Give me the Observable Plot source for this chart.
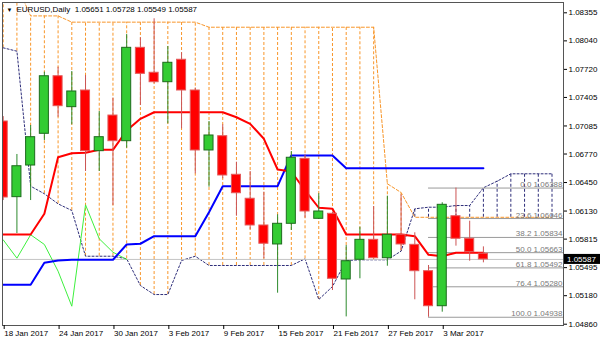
<!DOCTYPE html>
<html><head><meta charset="utf-8">
<script src="https://cdn.jsdelivr.net/npm/d3@7"></script>
<script src="https://cdn.jsdelivr.net/npm/@observablehq/plot@0.6"></script>
<style>
html,body{margin:0;padding:0;background:#fff;}
#chart{width:600px;height:343px;overflow:hidden;}
</style></head><body><div id="chart"></div>
<script>
const symbol = "EURUSD,Daily";
const dates = ["18 Jan 2017","19 Jan 2017","20 Jan 2017","23 Jan 2017","24 Jan 2017","25 Jan 2017","26 Jan 2017","27 Jan 2017","30 Jan 2017","31 Jan 2017","1 Feb 2017","2 Feb 2017","3 Feb 2017","6 Feb 2017","7 Feb 2017","8 Feb 2017","9 Feb 2017","10 Feb 2017","13 Feb 2017","14 Feb 2017","15 Feb 2017","16 Feb 2017","17 Feb 2017","20 Feb 2017","21 Feb 2017","22 Feb 2017","23 Feb 2017","24 Feb 2017","27 Feb 2017","28 Feb 2017","1 Mar 2017","2 Mar 2017","3 Mar 2017","6 Mar 2017","7 Mar 2017","8 Mar 2017"];
const open  = [1.07135,1.06286,1.06641,1.06997,1.07643,1.07296,1.07483,1.06802,1.07202,1.06914,1.07962,1.07682,1.07576,1.07828,1.07483,1.06810,1.06970,1.06537,1.06268,1.05968,1.05755,1.05987,1.06716,1.06043,1.06099,1.05362,1.05583,1.05807,1.05601,1.05864,1.05751,1.05455,1.05062,1.06072,1.05819,1.05651];
const high  = [1.07190,1.06765,1.07090,1.07688,1.07744,1.07696,1.07651,1.07247,1.07397,1.08111,1.08074,1.08288,1.07977,1.07906,1.07509,1.07135,1.07098,1.06678,1.06574,1.06342,1.06088,1.06798,1.06761,1.06324,1.06120,1.05743,1.05949,1.06181,1.06297,1.06312,1.05886,1.05519,1.06223,1.06388,1.06016,1.05728];
const low   = [1.06248,1.05878,1.06248,1.06922,1.07183,1.07098,1.06574,1.06574,1.06192,1.06835,1.07315,1.07558,1.07109,1.07053,1.06548,1.06398,1.06492,1.06072,1.05920,1.05594,1.05208,1.05912,1.06050,1.06035,1.05238,1.04942,1.05370,1.05594,1.05511,1.05687,1.05134,1.04938,1.04995,1.05736,1.05567,1.05549];
const close = [1.06282,1.06633,1.06959,1.07643,1.07307,1.07472,1.06802,1.06959,1.06914,1.07962,1.07670,1.07576,1.07794,1.07483,1.06810,1.06978,1.06529,1.06330,1.05968,1.05763,1.05987,1.06728,1.06125,1.06125,1.05370,1.05567,1.05807,1.05601,1.05864,1.05755,1.05455,1.05062,1.06200,1.05819,1.05668,1.05587];
const tenkan = [1.05867,1.05867,1.05867,1.06099,1.06734,1.06779,1.06784,1.06817,1.06817,1.07034,1.07165,1.07239,1.07239,1.07239,1.07239,1.07239,1.07239,1.07183,1.07109,1.06941,1.06596,1.06574,1.06361,1.06167,1.06155,1.05867,1.05867,1.05867,1.05867,1.05867,1.05848,1.05639,1.05623,1.05663,1.05663,1.05663];
const kijun = [1.05302,1.05302,1.05302,1.05549,1.05575,1.05583,1.05583,1.05583,1.05583,1.05755,1.05763,1.05848,1.05848,1.05848,1.05848,1.06117,1.06409,1.06409,1.06409,1.06409,1.06409,1.06754,1.06754,1.06754,1.06754,1.06611,1.06611,1.06611,1.06611,1.06611,1.06611,1.06611,1.06611,1.06611,1.06611,1.06611];
const chikou = [1.05807,1.05601,1.05864,1.05755,1.05455,1.05062,1.06200,1.05819,1.05668,1.05587];
const spanA = [1.07962,1.07924,1.06409,1.06324,1.06211,1.06136,1.05623,1.05623,1.05623,1.05594,1.05294,1.05193,1.05193,1.05575,1.05623,1.05519,1.05519,1.05519,1.05519,1.05519,1.05519,1.05519,1.05594,1.05137,1.05283,1.05575,1.05583,1.05583,1.05583,1.05680,1.06155,1.06173,1.06173,1.06192,1.06192,1.06391,1.06465,1.06548,1.06548,1.06548,1.06548];
const spanB = [1.08660,1.08660,1.08320,1.08320,1.08320,1.08250,1.08250,1.08250,1.08250,1.08250,1.08250,1.08250,1.08250,1.08250,1.08250,1.08193,1.08193,1.08193,1.08193,1.08193,1.08193,1.08193,1.08193,1.08193,1.08193,1.08193,1.08193,1.08193,1.06436,1.06338,1.06060,1.06060,1.06060,1.06060,1.06060,1.06060,1.06060,1.06060,1.06060,1.06060,1.06060];
const fibPct = [0.0, 23.6, 38.2, 50.0, 61.8, 76.4, 100.0];
const fibLevel = [1.06388, 1.06046, 1.05834, 1.05663, 1.05492, 1.05280, 1.04938];
const fibStart = 31;
const yTicks = [1.08355,1.08040,1.07720,1.07405,1.07085,1.06770,1.06450,1.06130,1.05815,1.05495,1.05180,1.04860];
const xTickIdx = [0,4,8,12,16,20,24,28,32];

const xDomain = [-0.051, 40.838];
const yDomain = [1.048455, 1.084706];
const ORANGE = "#f8962a", NAVY = "#2e2e7a";
const FONT = "'Liberation Sans', Arial, sans-serif";
const last = close.length - 1;

const bars = dates.map((d,i)=>({i, o:open[i], h:high[i], l:low[i], c:close[i], up: close[i] >= open[i],
  top: Math.max(open[i], close[i]), bot: Math.min(open[i], close[i])}));
const series = arr => arr.map((v,i)=>({i, v}));
const cloud = spanA.map((a,i)=>({i, lo: Math.min(a, spanB[i]), hi: Math.max(a, spanB[i]), bUp: spanB[i] > a}));
const fib = fibPct.map((p,k)=>({pct:p, level:fibLevel[k], x1: fibStart, x2: xDomain[1]}));
const header = `${symbol}\u00a0 ${open[last].toFixed(5)} ${high[last].toFixed(5)} ${low[last].toFixed(5)} ${close[last].toFixed(5)}`;
const HW = 0.33;

const chart = Plot.plot({
  width: 600, height: 343,
  marginLeft: 2, marginRight: 37, marginTop: 2, marginBottom: 18,
  style: {fontFamily: FONT, fontSize: "8px", background: "#fff"},
  x: {type: "linear", domain: xDomain},
  y: {type: "linear", domain: yDomain},
  marks: [
    Plot.ruleX(cloud, {x: "i", y1: "lo", y2: "hi", stroke: d => d.bUp ? ORANGE : NAVY, strokeWidth: 1, strokeDasharray: "3,2", clip: true}),
    Plot.line(series(spanB), {x: "i", y: "v", stroke: ORANGE, strokeWidth: 1, strokeDasharray: "3,2", clip: true}),
    Plot.line(series(spanA), {x: "i", y: "v", stroke: NAVY, strokeWidth: 1, strokeDasharray: "2,2", clip: true}),
    Plot.ruleY([close[last]], {y: d => d, stroke: "#c4c4c4", strokeWidth: 1}),
    Plot.ruleY(fib, {y: "level", x1: "x1", x2: "x2", stroke: "#9a9a9a", strokeWidth: 1}),
    Plot.text(fib, {x: "x2", y: "level", text: d => `${d.pct.toFixed(1)} ${d.level.toFixed(5)}`, textAnchor: "end", lineAnchor: "bottom", dx: -1, dy: -1, fill: "#7a7a7a", fontSize: 8}),
    Plot.line(series(chikou), {x: "i", y: "v", stroke: "#3ef03e", strokeWidth: 1, clip: true}),
    Plot.line(series(kijun), {x: "i", y: "v", stroke: "#0000ff", strokeWidth: 2, clip: true}),
    Plot.line(series(tenkan), {x: "i", y: "v", stroke: "#ff0000", strokeWidth: 2, clip: true}),
    Plot.ruleX(bars, {x: "i", y1: "l", y2: "h", stroke: d => d.up ? "#2d8a2d" : "#cc5555", strokeWidth: 1, clip: true}),
    Plot.rect(bars, {x1: d => d.i - HW, x2: d => d.i + HW, y1: "bot", y2: "top", fill: d => d.up ? "#33cc33" : "#ff0000", stroke: d => d.up ? "#1d6b1d" : "#e45a5a", strokeWidth: 1, clip: true}),
    Plot.frame({stroke: "#555", strokeWidth: 1}),
    Plot.axisY({ticks: yTicks, anchor: "right", tickSize: 3, tickPadding: 2, tickFormat: d3.format(".5f"), fontSize: 8, fill: "#000", label: null}),
    Plot.axisX({ticks: xTickIdx, anchor: "bottom", tickSize: 4, tickPadding: 1, tickFormat: i => dates[i], textAnchor: "start", dx: 1, fontSize: 8, fill: "#000", label: null}),
    Plot.text(["\u25BC"], {text: d => d, frameAnchor: "top-left", dx: 4, dy: 5, lineAnchor: "top", textAnchor: "start", fontSize: 6, fill: "#000"}),
    Plot.text([header], {text: d => d, frameAnchor: "top-left", dx: 14, dy: 4, lineAnchor: "top", textAnchor: "start", fontSize: 8, fill: "#000"})
  ]
});
document.getElementById("chart").appendChild(chart);

// current price tag on the price axis, placed with the plot's own scales
const ys = chart.scale("y"), xs = chart.scale("x");
const py = ys.apply(close[last]);
const px = xs.range[1];
const svg = d3.select(chart);
svg.append("rect").attr("x", px + 1).attr("y", py - 5).attr("width", 600 - px - 1).attr("height", 10).attr("fill", "#000");
svg.append("text").attr("x", px + 4).attr("y", py + 3).attr("fill", "#fff")
  .attr("text-anchor", "start").attr("font-size", 8).attr("font-family", FONT).text(close[last].toFixed(5));
</script></body></html>
